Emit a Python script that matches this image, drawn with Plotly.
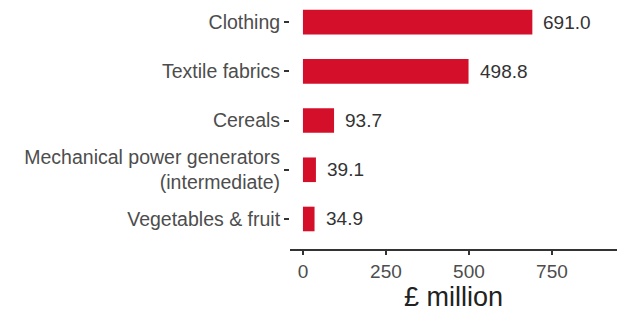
import plotly.graph_objects as go

categories = ["Vegetables & fruit", "Mechanical power generators<br>(intermediate)",
              "Cereals", "Textile fabrics", "Clothing"]
values = [34.9, 39.1, 93.7, 498.8, 691.0]
value_labels = ["34.9", "39.1", "93.7", "498.8", "691.0"]
x_ticks = [0, 250, 500, 750]

BAR = "#d40f2a"
FONT = "Liberation Sans, Arial, sans-serif"

fig = go.Figure()
fig.add_trace(go.Bar(
    x=values, y=categories, orientation="h",
    marker=dict(color=BAR, line=dict(width=0)),
    width=0.5, hoverinfo="skip",
))

for v, c, t in zip(values, categories, value_labels):
    fig.add_annotation(x=v, y=c, text=t, showarrow=False, xanchor="left",
                       xshift=9, font=dict(family=FONT, size=19, color="#333333"))

fig.update_layout(
    width=617, height=315,
    margin=dict(l=290, r=0, t=0, b=66),
    paper_bgcolor="white", plot_bgcolor="white",
    showlegend=False,
    font=dict(family=FONT, color="#4d4d4d"),
    bargap=0.5,
)
fig.update_xaxes(
    automargin=False,
    range=[-39, 946], tickvals=x_ticks, ticktext=[str(v) for v in x_ticks],
    showgrid=False, zeroline=False,
    showline=True, linecolor="#333333", linewidth=2,
    ticks="outside", ticklen=4, tickwidth=2, tickcolor="#333333",
    tickfont=dict(family=FONT, size=19, color="#4d4d4d"),
    title=dict(text="£ million", font=dict(family=FONT, size=27, color="#222222"), standoff=4),
)
fig.update_yaxes(
    automargin=False,
    type="category", categoryorder="array", categoryarray=categories,
    range=[-0.61, 4.45],
    showgrid=False, zeroline=False, showline=False,
    ticks="outside", ticklen=5, tickwidth=2, tickcolor="#333333",
    tickfont=dict(family=FONT, size=19.5, color="#4d4d4d"),
)

fig.write_html("out.html", config={"displayModeBar": False, "staticPlot": True},
               post_script="document.body.style.margin='0';document.body.style.overflow='hidden';")
